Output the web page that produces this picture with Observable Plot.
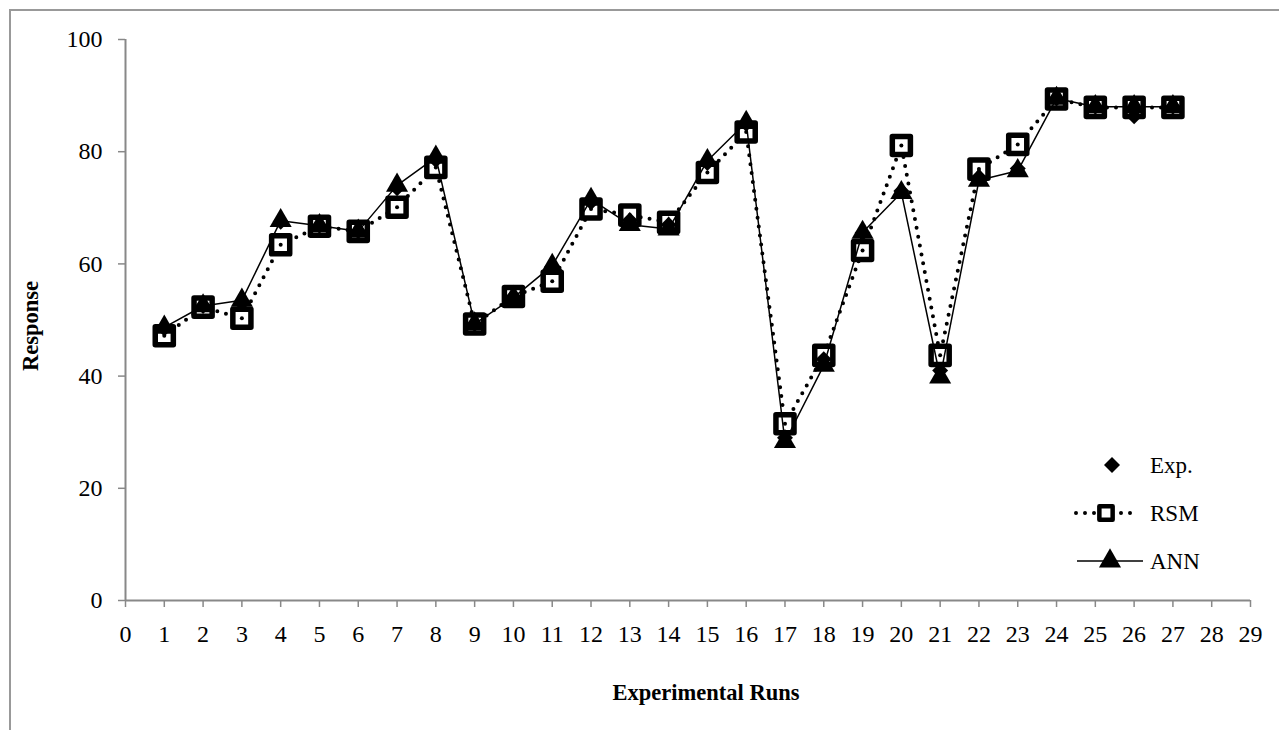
<!DOCTYPE html>
<html>
<head>
<meta charset="utf-8">
<script src="https://cdn.jsdelivr.net/npm/d3@7"></script>
<script src="https://cdn.jsdelivr.net/npm/@observablehq/plot@0.6"></script>
<style>
  html, body { margin: 0; padding: 0; background: #fff; }
  #wrap { position: relative; width: 1279px; height: 730px; overflow: hidden; font-family: "Liberation Serif", "Times New Roman", serif; }
  #border { position: absolute; left: 9px; top: 9px; width: 1400px; height: 800px; border-top: 2px solid #999; border-left: 2px solid #999; box-sizing: border-box; }
  #chart { position: absolute; left: 0; top: 0; }
  #chart g[aria-label="x-axis tick"] path, #chart g[aria-label="y-axis tick"] path { stroke: #888; stroke-width: 1.5px; }
  #legend { position: absolute; left: 1060px; top: 440px; }
  .title { position: absolute; font-weight: bold; font-size: 22.5px; color: #000; white-space: nowrap; line-height: 1; }
  #xtitle { left: 706px; top: 693px; transform: translate(-50%, -50%); }
  #ytitle { left: 31px; top: 326px; transform: translate(-50%, -50%) rotate(-90deg); }
</style>
</head>
<body>
<div id="wrap">
  <div id="border"></div>
  <div id="chart"></div>
  <svg id="legend" width="200" height="150"></svg>
  <div class="title" id="xtitle"></div>
  <div class="title" id="ytitle"></div>
</div>
<script>
const runs = [1,2,3,4,5,6,7,8,9,10,11,12,13,14,15,16,17,18,19,20,21,22,23,24,25,26,27];
const expValues = [48.5,52.5,53,67.5,66.8,65.8,73.5,78.5,49.3,54.2,59.5,71,67.8,67,78,85,29,43,65.5,73,41,75.5,77,89.5,88,86.3,88];
const rsmValues = [47.2,52.3,50.3,63.4,66.7,65.8,70.1,77.2,49.3,54.2,56.9,69.8,68.7,67.4,76.3,83.5,31.5,43.7,62.4,81.1,43.7,76.9,81.3,89.4,87.9,87.9,87.9];
const annValues = [48.7,52.5,53.5,67.7,66.8,65.8,74,79,49.3,54,59.7,71.5,67,66.2,78.4,85.2,28.3,41.9,65.6,72.7,39.8,74.9,76.6,89.5,88,88,88];
const xTicks = [0,1,2,3,4,5,6,7,8,9,10,11,12,13,14,15,16,17,18,19,20,21,22,23,24,25,26,27,28,29];
const yTicks = [0,20,40,60,80,100];
const seriesNames = ["Exp.", "RSM", "ANN"];
const xTitle = "Experimental Runs";
const yTitle = "Response";

document.getElementById("xtitle").textContent = xTitle;
document.getElementById("ytitle").textContent = yTitle;

const data = runs.map((r, i) => ({run: r, exp: expValues[i], rsm: rsmValues[i], ann: annValues[i]}));

const chart = Plot.plot({
  width: 1279,
  height: 730,
  marginLeft: 125,
  marginRight: 29,
  marginTop: 39,
  marginBottom: 130,
  style: {fontFamily: "Liberation Serif, Times New Roman, serif", fontSize: "24px", background: "transparent", color: "black", overflow: "visible"},
  x: {domain: [0, 29]},
  y: {domain: [0, 100]},
  marks: [
    Plot.axisX({ticks: xTicks, tickSize: 7, tickPadding: 17, tickFormat: d => String(d), label: null}),
    Plot.axisY({ticks: yTicks, tickSize: 7, tickPadding: 16, tickFormat: d => String(d), label: null}),
    Plot.ruleY([0], {stroke: "#888", strokeWidth: 2}),
    Plot.ruleX([0], {stroke: "#888", strokeWidth: 2}),
    Plot.line(data, {x: "run", y: "rsm", stroke: "black", strokeWidth: 4, strokeDasharray: "0,9", strokeLinecap: "round"}),
    Plot.dot(data, {x: "run", y: "rsm", symbol: "square", r: 10.2, fill: "white", stroke: "black", strokeWidth: 5.5, strokeLinejoin: "round"}),
    Plot.dot(data, {x: "run", y: "rsm", r: 2, fill: "black", stroke: "none"}),
    Plot.dot(data, {x: "run", y: "exp", symbol: "diamond2", r: 7.2, fill: "black", stroke: "none"}),
    Plot.line(data, {x: "run", y: "ann", stroke: "black", strokeWidth: 1.5}),
    Plot.dot(data, {x: "run", y: "ann", symbol: "triangle", r: 8.2, fill: "black", stroke: "none"})
  ]
});
document.getElementById("chart").appendChild(chart);

// Legend
const lg = d3.select("#legend");
const rowY = [25, 73, 121];
const symX = 52;
const textX = 90;
seriesNames.forEach((name, i) => {
  const y = rowY[i];
  if (i === 0) {
    lg.append("path").attr("transform", `translate(${symX},${y})`)
      .attr("d", d3.symbol(d3.symbolDiamond2, Math.PI * 7.2 * 7.2)()).attr("fill", "black");
  } else if (i === 1) {
    lg.append("line").attr("x1", 16).attr("x2", 78).attr("y1", y).attr("y2", y)
      .attr("stroke", "black").attr("stroke-width", 4).attr("stroke-dasharray", "0,9").attr("stroke-linecap", "round");
    lg.append("path").attr("transform", `translate(${symX-6},${y})`)
      .attr("d", d3.symbol(d3.symbolSquare, Math.PI * 7.5 * 7.5)()).attr("fill", "white")
      .attr("stroke", "black").attr("stroke-width", 4.5).attr("stroke-linejoin", "round");
  } else {
    lg.append("line").attr("x1", 17).attr("x2", 83).attr("y1", y).attr("y2", y)
      .attr("stroke", "black").attr("stroke-width", 1.5);
    lg.append("path").attr("transform", `translate(${symX-2},${y})`)
      .attr("d", d3.symbol(d3.symbolTriangle, Math.PI * 8.2 * 8.2)()).attr("fill", "black");
  }
  lg.append("text").attr("x", textX).attr("y", y).attr("dy", "0.35em")
    .attr("font-family", "Liberation Serif, Times New Roman, serif").attr("font-size", "23px")
    .attr("fill", "black").text(name);
});
</script>
</body>
</html>
